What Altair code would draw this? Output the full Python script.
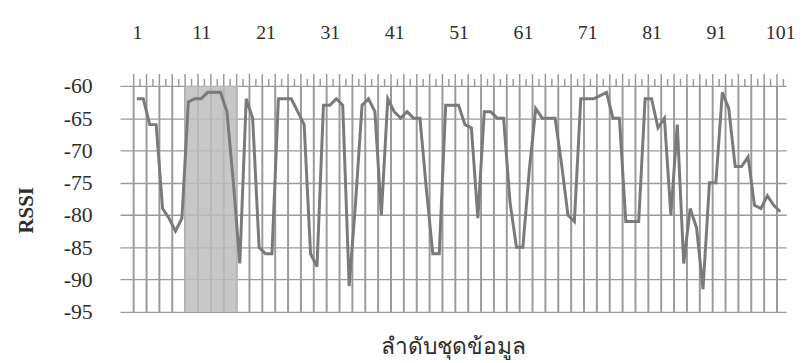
import altair as alt
import pandas as pd

# ---- data ----
index = list(range(1, 102))
rssi = [
    -62, -62, -66, -66, -79, -80.5, -82.5, -80.5, -62.5, -62,
    -62, -61, -61, -61, -64, -75, -87.5, -62, -65, -85,
    -86, -86, -62, -62, -62, -64, -66, -86, -88, -63,
    -63, -62, -63, -91, -78, -63, -62, -64, -80, -62,
    -64, -65, -64, -65, -65, -76, -86, -86, -63, -63,
    -63, -66, -66.5, -80.5, -64, -64, -65, -65, -78, -85,
    -85, -73, -63.5, -65, -65, -65, -72, -80, -81, -62,
    -62, -62, -61.5, -61, -65, -65, -81, -81, -81, -62,
    -62, -66.5, -65, -80, -66, -87.5, -79, -82, -91.5, -75,
    -75, -61, -63.5, -72.5, -72.5, -71, -78.5, -79, -77, -78.5,
    -79.5,
]
x_labels = [1, 11, 21, 31, 41, 51, 61, 71, 81, 91, 101]
y_labels = [-60, -65, -70, -75, -80, -85, -90, -95]
shade_range = [8.4, 16.7]
x_title = "ลำดับชุดข้อมูล"
y_title = "RSSI"

df = pd.DataFrame({"i": index, "rssi": rssi})
grid_df = pd.DataFrame({"g": [0.5 + 2 * k for k in range(51)]})
tick_long = pd.DataFrame({"t": [0.5 + 2 * k for k in range(51)]})
tick_short = pd.DataFrame({"t": [1.5 + 2 * k for k in range(51)]})
shade_df = pd.DataFrame({"a": [shade_range[0]], "b": [shade_range[1]]})

FONT = "Liberation Serif"
TXT = "#2e2e2e"

xscale = alt.Scale(domain=[-1.62, 101.92], nice=False, zero=False)
yscale = alt.Scale(domain=[-95, -60], nice=False, zero=False)

xaxis = alt.Axis(orient="top", values=x_labels, grid=False, ticks=False, domain=False,
                 labelFont=FONT, labelFontSize=20, labelColor=TXT, labelPadding=44,
                 labelFlush=False, title=None)
yaxis = alt.Axis(values=y_labels, grid=True, gridColor="#9a9a9a", gridWidth=1.3,
                 ticks=False, domain=False, labelFont=FONT, labelFontSize=22,
                 labelColor=TXT, labelPadding=28, labelExpr="'' + datum.value",
                 title=y_title, titleFont=FONT,
                 titleFontSize=21, titleFontWeight="bold", titleColor=TXT,
                 titleAngle=270, titleX=-94, titleY=125, titleAlign="center",
                 titleBaseline="middle")

line = alt.Chart(df).mark_line(color="#7a7a7a", strokeWidth=3).encode(
    x=alt.X("i:Q", scale=xscale, axis=xaxis),
    y=alt.Y("rssi:Q", scale=yscale, axis=yaxis),
)

vgrid = alt.Chart(grid_df).mark_rule(color="#9a9a9a", strokeWidth=2).encode(
    x=alt.X("g:Q", scale=xscale, axis=xaxis),
)

shade = alt.Chart(shade_df).mark_rect(color="#bdbdbd", opacity=0.85).encode(
    x=alt.X("a:Q", scale=xscale, axis=xaxis),
    x2="b:Q",
)

ticks_l = alt.Chart(tick_long).mark_rule(color="#9a9a9a", strokeWidth=1.5).encode(
    x=alt.X("t:Q", scale=xscale, axis=xaxis),
    y=alt.value(-12), y2=alt.value(0),
)
ticks_s = alt.Chart(tick_short).mark_rule(color="#9a9a9a", strokeWidth=1.5).encode(
    x=alt.X("t:Q", scale=xscale, axis=xaxis),
    y=alt.value(-7), y2=alt.value(0),
)

chart = alt.layer(vgrid, shade, line, ticks_l, ticks_s).properties(
    width=672,
    height=228,
    autosize="none",
    padding={"left": 113, "top": 77, "right": 16, "bottom": 50},
    background="white",
    title=alt.TitleParams(x_title, orient="bottom", anchor="middle", fontSize=23,
                          font="Noto Sans", fontWeight="normal", color=TXT, offset=13),
).configure_view(stroke=None)

chart.save("out.html", embed_options={"renderer": "svg", "actions": False})
